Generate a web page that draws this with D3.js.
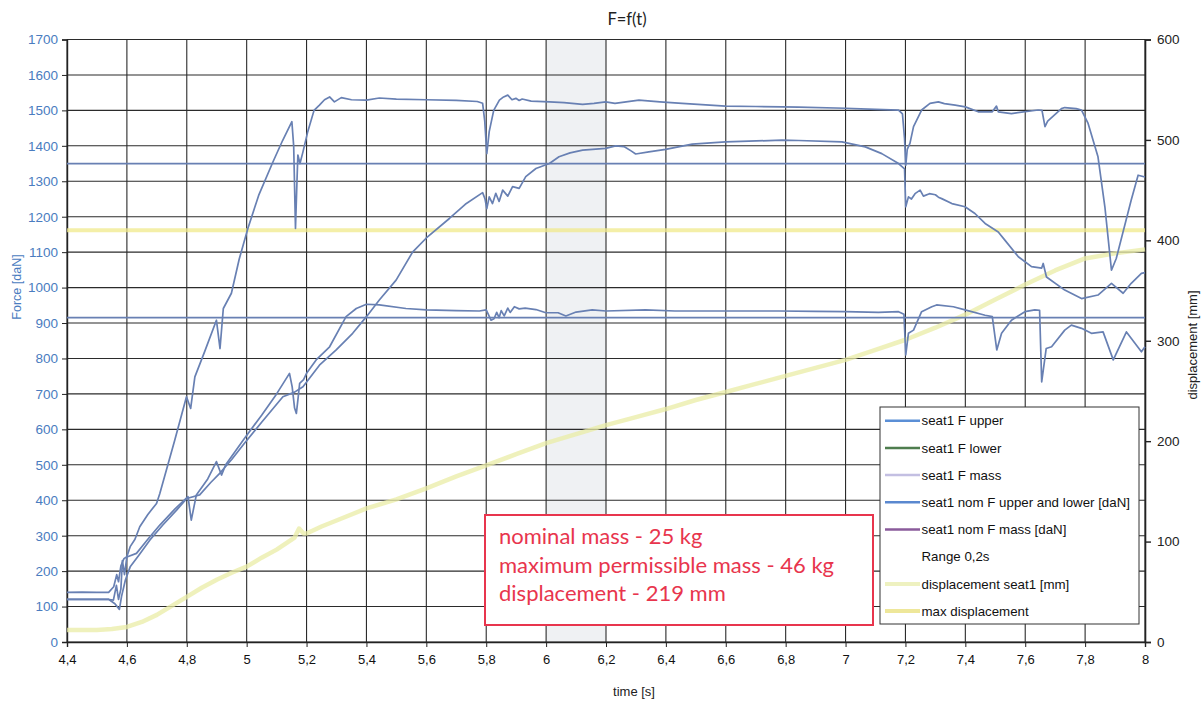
<!DOCTYPE html>
<html>
<head>
<meta charset="utf-8">
<script src="https://cdn.jsdelivr.net/npm/d3@7"></script>
<style>
  html, body { margin: 0; padding: 0; background: #fff; }
  svg { display: block; }
</style>
</head>
<body>
<svg id="chart" width="1204" height="701"></svg>
<script>
// ---- data ----------------------------------------------------------------
// force traces [t (s), F (daN)]
const seat1FUpper = [
  [4.40,140],[4.45,141],[4.50,140],[4.539,140],[4.556,156],[4.566,190],[4.572,170],[4.58,215],
  [4.59,235],[4.60,241],[4.611,269],[4.627,290],[4.643,325],[4.67,360],[4.699,391],[4.71,419],
  [4.76,570],[4.799,692],[4.813,659],[4.827,748],[4.86,820],[4.899,908],[4.911,828],[4.922,941],
  [4.949,984],[4.975,1080],[5.004,1167],[5.04,1260],[5.088,1355],[5.12,1415],[5.151,1468],
  [5.157,1400],[5.163,1167],[5.168,1300],[5.171,1374],[5.178,1350],[5.188,1383],[5.204,1440],
  [5.225,1500],[5.243,1515],[5.26,1530],[5.277,1538],[5.293,1524],[5.316,1536],[5.35,1530],
  [5.40,1529],[5.443,1535],[5.50,1532],[5.60,1530],[5.70,1528],[5.77,1525],[5.788,1520],
  [5.795,1470],[5.802,1378],[5.81,1440],[5.825,1500],[5.844,1529],[5.858,1538],[5.872,1543],
  [5.886,1530],[5.899,1534],[5.91,1528],[5.92,1532],[5.95,1526],[6.011,1524],[6.06,1522],
  [6.122,1517],[6.16,1520],[6.199,1524],[6.23,1520],[6.31,1529],[6.38,1524],[6.454,1520],
  [6.599,1512],[6.70,1511],[6.788,1510],[6.843,1509],[7.00,1506],[7.10,1503],[7.177,1501],
  [7.19,1490],[7.197,1420],[7.201,1345],[7.206,1390],[7.215,1407],[7.227,1454],[7.254,1501],
  [7.282,1520],[7.31,1524],[7.33,1519],[7.366,1515],[7.40,1510],[7.443,1496],[7.49,1496],
  [7.504,1512],[7.51,1496],[7.554,1491],[7.643,1501],[7.656,1500],[7.666,1454],[7.675,1470],
  [7.721,1505],[7.732,1508],[7.77,1505],[7.788,1501],[7.81,1463],[7.843,1369],[7.866,1228],
  [7.888,1049],[7.904,1082],[7.954,1247],[7.977,1317],[8.00,1312]
];
const seat1FLower = [
  [4.40,120],[4.54,120],[4.555,118],[4.565,160],[4.572,120],[4.58,150],[4.585,230],[4.592,190],
  [4.60,240],[4.632,250],[4.67,290],[4.71,330],[4.76,375],[4.804,410],[4.815,344],[4.832,415],
  [4.87,460],[4.899,509],[4.916,471],[4.93,500],[4.993,575],[5.05,640],[5.10,700],[5.143,758],
  [5.152,720],[5.16,660],[5.166,645],[5.172,690],[5.177,730],[5.19,740],[5.20,758],[5.232,796],
  [5.277,833],[5.332,918],[5.366,941],[5.40,953],[5.443,951],[5.532,941],[5.60,937],[5.70,935],
  [5.777,934],[5.80,937],[5.816,908],[5.826,912],[5.835,930],[5.843,915],[5.85,935],[5.86,920],
  [5.872,942],[5.88,930],[5.894,946],[5.91,940],[5.93,942],[5.966,938],[5.999,929],[6.04,929],
  [6.066,920],[6.10,931],[6.154,937],[6.20,934],[6.332,937],[6.43,934],[6.555,934],[6.777,934],
  [6.90,933],[7.00,932],[7.11,930],[7.177,932],[7.195,925],[7.201,810],[7.21,871],[7.227,880],
  [7.254,932],[7.288,946],[7.304,951],[7.36,946],[7.399,937],[7.466,922],[7.49,918],[7.505,824],
  [7.521,871],[7.554,908],[7.599,932],[7.632,937],[7.648,936],[7.655,734],[7.67,828],[7.688,833],
  [7.732,880],[7.754,894],[7.788,885],[7.821,871],[7.86,875],[7.894,796],[7.938,875],[7.988,819],
  [8.00,833]
];
const seat1FMass = [
  [4.40,120],[4.54,120],[4.56,108],[4.575,92],[4.582,128],[4.595,175],[4.611,212],[4.64,245],
  [4.677,288],[4.72,330],[4.766,372],[4.80,405],[4.843,415],[4.88,450],[4.91,476],[4.95,515],
  [4.988,556],[5.05,620],[5.121,692],[5.16,705],[5.188,720],[5.243,781],[5.299,824],[5.354,871],
  [5.40,918],[5.443,965],[5.499,1021],[5.554,1100],[5.60,1140],[5.677,1195],[5.73,1235],
  [5.788,1268],[5.796,1250],[5.802,1223],[5.81,1256],[5.821,1237],[5.832,1266],[5.843,1243],
  [5.855,1275],[5.872,1258],[5.888,1285],[5.91,1280],[5.932,1313],[5.966,1336],[6.011,1350],
  [6.043,1369],[6.08,1380],[6.122,1388],[6.199,1393],[6.232,1400],[6.26,1398],[6.285,1385],
  [6.299,1377],[6.343,1383],[6.399,1390],[6.488,1405],[6.599,1411],[6.788,1416],[6.843,1415],
  [6.988,1411],[7.066,1397],[7.121,1378],[7.177,1350],[7.197,1335],[7.201,1228],[7.21,1256],
  [7.22,1250],[7.232,1265],[7.249,1275],[7.26,1258],[7.28,1265],[7.30,1262],[7.31,1255],
  [7.321,1251],[7.355,1237],[7.399,1228],[7.432,1209],[7.466,1181],[7.51,1157],[7.532,1134],
  [7.577,1087],[7.621,1059],[7.655,1055],[7.66,1068],[7.671,1030],[7.732,993],[7.788,969],
  [7.843,979],[7.888,1012],[7.927,984],[7.954,1012],[7.988,1040],[8.00,1042]
];
// nominal force levels (daN)
const nomFUpperLower = 1350;
const nomFMass = 915;
// displacement [t (s), mm]
const displacementSeat1 = [
  [4.40,12],[4.50,12],[4.55,13],[4.60,15],[4.65,20],[4.70,27],[4.75,36],[4.80,45],[4.85,54],
  [4.90,62],[4.95,69],[5.00,75],[5.05,84],[5.10,92],[5.14,100],[5.16,104],[5.175,113],[5.19,108],
  [5.20,108],[5.25,115],[5.30,121],[5.40,133],[5.50,142],[5.60,153],[5.70,165],[5.80,176],
  [5.90,187],[6.00,198],[6.10,207],[6.20,216],[6.30,224],[6.40,232],[6.50,241],[6.60,249],
  [6.70,257],[6.80,265],[6.90,273],[7.00,281],[7.10,291],[7.20,301],[7.30,313],[7.40,326],
  [7.50,341],[7.60,356],[7.70,370],[7.80,382],[7.90,387],[8.00,391]
];
const maxDisplacement = 410;
// evaluation window (s)
const rangeWindow = [6.0, 6.2];
// axes
const timeTicks = [4.4,4.6,4.8,5,5.2,5.4,5.6,5.8,6,6.2,6.4,6.6,6.8,7,7.2,7.4,7.6,7.8,8];
const forceTicks = d3.range(0, 1701, 100);
const dispTicks = d3.range(0, 601, 100);
const legendLabels = [
  "seat1 F upper", "seat1 F lower", "seat1 F mass",
  "seat1 nom F upper and lower [daN]", "seat1 nom F mass [daN]",
  "Range 0,2s", "displacement seat1 [mm]", "max displacement"
];
const legendColors = ["#5b8fd6", "#4e7d4e", "#c3bfe2", "#5a88cf", "#8a5b9b", null, "#eef1c0", "#eee79a"];
const noteLines = ["nominal mass - 25 kg", "maximum permissible mass - 46 kg", "displacement - 219 mm"];

// ---- layout --------------------------------------------------------------
const svg = d3.select("#chart");
const L = 67, R = 1145, T = 39.5, B = 642;
const x = d3.scaleLinear().domain([4.4, 8]).range([L, R]);
const yF = d3.scaleLinear().domain([0, 1700]).range([B, T]);
const yD = d3.scaleLinear().domain([0, 600]).range([B, T]);
const traceColor = "#6880b3";
const axisFont = "'Liberation Sans', Arial, sans-serif";
const fmt = d => String(+d.toFixed(1)).replace(".", ",");

svg.append("rect").attr("width", 1204).attr("height", 701).attr("fill", "#fff");

// range band
svg.append("rect")
  .attr("x", x(rangeWindow[0])).attr("y", T)
  .attr("width", x(rangeWindow[1]) - x(rangeWindow[0])).attr("height", B - T)
  .attr("fill", "#eff1f3");

// grid
const grid = svg.append("g").attr("stroke", "#2b2b2b").attr("stroke-width", 1.1);
grid.selectAll("line.h").data(forceTicks).join("line")
  .attr("x1", L).attr("x2", R).attr("y1", d => yF(d)).attr("y2", d => yF(d));
grid.selectAll("line.v").data(timeTicks).join("line")
  .attr("y1", T).attr("y2", B).attr("x1", d => x(d)).attr("x2", d => x(d));

// axes
const axL = svg.append("g").attr("transform", `translate(${L},0)`)
  .call(d3.axisLeft(yF).tickValues(forceTicks).tickSize(5).tickPadding(4).tickFormat(d3.format("d")));
axL.select(".domain").attr("stroke", "#222").attr("stroke-width", 1.4);
axL.selectAll(".tick line").attr("stroke", "#222");
axL.selectAll("text").attr("fill", "#4a7cc0").style("font", `13.5px ${axisFont}`);

const axR = svg.append("g").attr("transform", `translate(${R},0)`)
  .call(d3.axisRight(yD).tickValues(dispTicks).tickSize(6).tickPadding(6).tickFormat(d3.format("d")));
axR.select(".domain").attr("stroke", "#222").attr("stroke-width", 1.6);
axR.selectAll(".tick line").attr("stroke", "#222").attr("stroke-width", 1.4);
axR.selectAll("text").attr("fill", "#222").style("font", `13.5px ${axisFont}`);

const axB = svg.append("g").attr("transform", `translate(0,${B})`)
  .call(d3.axisBottom(x).tickValues(timeTicks).tickSize(5).tickPadding(8).tickFormat(fmt));
axB.select(".domain").attr("stroke", "#222").attr("stroke-width", 1.4);
axB.selectAll(".tick line").attr("stroke", "#222");
axB.selectAll("text").attr("fill", "#111").style("font", `13px ${axisFont}`);

// titles
svg.append("text").attr("x", 627).attr("y", 25).attr("text-anchor", "middle")
  .style("font", "16.5px Lato, 'Open Sans', sans-serif").attr("fill", "#222").text("F=f(t)");
svg.append("text").attr("x", 634).attr("y", 696).attr("text-anchor", "middle")
  .style("font", `13px ${axisFont}`).attr("fill", "#222").text("time [s]");
svg.append("text").attr("transform", "translate(21,287) rotate(-90)").attr("text-anchor", "middle")
  .style("font", `12.5px ${axisFont}`).attr("fill", "#4a7cc0").text("Force [daN]");
svg.append("text").attr("transform", "translate(1197,345) rotate(-90)").attr("text-anchor", "middle")
  .style("font", `13px ${axisFont}`).attr("fill", "#222").text("displacement [mm]");

// displacement curves (right axis)
const lineD = d3.line().x(d => x(d[0])).y(d => yD(d[1]));
svg.append("line")
  .attr("x1", L).attr("x2", R).attr("y1", yD(maxDisplacement)).attr("y2", yD(maxDisplacement))
  .attr("stroke", "#f1ea8c").attr("stroke-width", 4).attr("opacity", 0.75);
svg.append("path").datum(displacementSeat1).attr("d", lineD)
  .attr("fill", "none").attr("stroke", "#e9eca6").attr("stroke-width", 4.5).attr("opacity", 0.75)
  .attr("stroke-linejoin", "round");

// force curves (left axis)
const lineF = d3.line().x(d => x(d[0])).y(d => yF(d[1]));
[nomFUpperLower, nomFMass].forEach(v => {
  svg.append("line").attr("x1", L).attr("x2", R).attr("y1", yF(v)).attr("y2", yF(v))
    .attr("stroke", traceColor).attr("stroke-width", 1.8);
});
[seat1FUpper, seat1FLower, seat1FMass].forEach(s => {
  svg.append("path").datum(s).attr("d", lineF)
    .attr("fill", "none").attr("stroke", traceColor).attr("stroke-width", 1.7)
    .attr("stroke-linejoin", "round");
});

// legend
const lg = svg.append("g");
lg.append("rect").attr("x", 880).attr("y", 407).attr("width", 259).attr("height", 217)
  .attr("fill", "#fff").attr("stroke", "#333").attr("stroke-width", 1);
legendLabels.forEach((label, i) => {
  const cy = 420.7 + i * 27.2;
  if (legendColors[i]) {
    lg.append("line").attr("x1", 885).attr("x2", 920).attr("y1", cy).attr("y2", cy)
      .attr("stroke", legendColors[i]).attr("stroke-width", i >= 6 ? 4 : 2.5);
  }
  lg.append("text").attr("x", 921.5).attr("y", cy).attr("dy", "0.35em")
    .style("font", `13.3px ${axisFont}`).attr("fill", "#111").text(label);
});

// note box
const nb = svg.append("g");
nb.append("rect").attr("x", 485).attr("y", 515).attr("width", 388).attr("height", 110)
  .attr("fill", "#fff").attr("stroke", "#e8354d").attr("stroke-width", 2);
noteLines.forEach((t, i) => {
  nb.append("text").attr("x", 499).attr("y", 544 + i * 28.5)
    .style("font", "22px Lato, 'Open Sans', sans-serif").attr("fill", "#e8354d").text(t);
});
</script>
</body>
</html>
